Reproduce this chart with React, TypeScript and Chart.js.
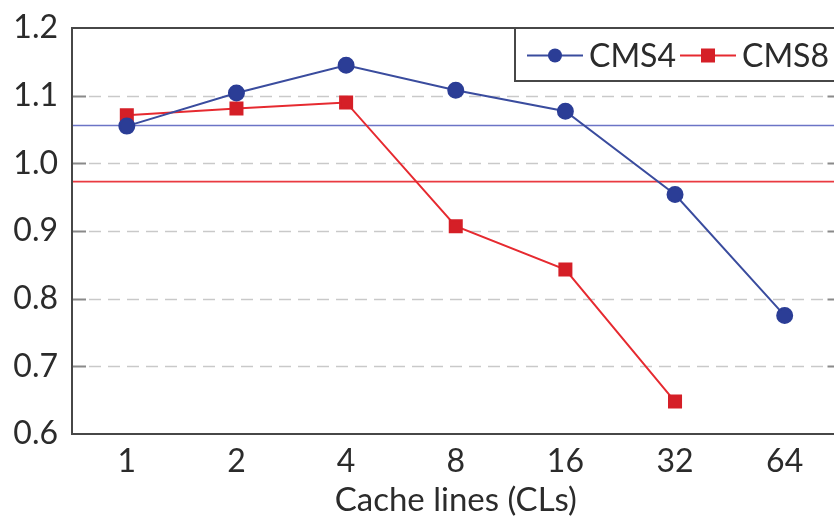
import React, { useEffect, useRef } from "react";
import { Chart, registerables } from "chart.js";

Chart.register(...registerables);

const categories = ["1", "2", "4", "8", "16", "32", "64"];
const cms4Values = [1.055, 1.104, 1.145, 1.108, 1.077, 0.954, 0.775];
const cms8Values = [1.071, 1.081, 1.09, 0.907, 0.843, 0.648, null];
const yTicks = [0.6, 0.7, 0.8, 0.9, 1.0, 1.1, 1.2];
const cms4Baseline = 1.056;
const cms8Baseline = 0.973;

const FONT = "Lato, 'Open Sans', sans-serif";
const TEXT = "#2b2b2b";
const FRAME = "#474747";
const BLUE_LINE = "#3a4c9e";
const BLUE_PT = "#2b3d96";
const RED_LINE = "#e62a30";
const RED_PT = "#d51f27";

const framePlugin = {
  id: "framePlugin",
  beforeDatasetsDraw(chart: any) {
    const { ctx, chartArea } = chart;
    const y = chart.scales.y;
    const { left, right, top, bottom } = chartArea;
    ctx.save();
    yTicks.forEach((v) => {
      if (v <= yTicks[0] || v >= yTicks[yTicks.length - 1]) return;
      const py = Math.round(y.getPixelForValue(v)) + 0.5;
      ctx.lineWidth = 1.5;
      ctx.strokeStyle = "#c9c9c9";
      ctx.setLineDash([12, 7]);
      ctx.beginPath();
      ctx.moveTo(left + 17, py);
      ctx.lineTo(right - 14, py);
      ctx.stroke();
      ctx.setLineDash([]);
      ctx.strokeStyle = "#8a8a8a";
      ctx.lineWidth = 2;
      ctx.beginPath();
      ctx.moveTo(left, py);
      ctx.lineTo(left + 14, py);
      ctx.moveTo(right - 12, py);
      ctx.lineTo(right, py);
      ctx.stroke();
    });
    const drawBase = (v: number, color: string) => {
      const py = y.getPixelForValue(v);
      ctx.strokeStyle = color;
      ctx.lineWidth = 1.6;
      ctx.beginPath();
      ctx.moveTo(left, py);
      ctx.lineTo(right, py);
      ctx.stroke();
    };
    drawBase(cms4Baseline, "#6b74c6");
    drawBase(cms8Baseline, "#ea3a40");
    ctx.strokeStyle = FRAME;
    ctx.lineWidth = 2;
    ctx.strokeRect(left, top, right - left, bottom - top);
    ctx.restore();
  },
  afterDraw(chart: any) {
    const { ctx } = chart;
    const bx = 515;
    const by = chart.chartArea.top;
    const bw = 340;
    const bh = 53;
    ctx.save();
    ctx.fillStyle = "#fff";
    ctx.fillRect(bx, by, bw, bh);
    ctx.strokeStyle = FRAME;
    ctx.lineWidth = 2;
    ctx.strokeRect(bx, by, bw, bh);
    ctx.font = `32px ${FONT}`;
    ctx.textBaseline = "middle";
    let x = bx + 12;
    const cy = by + bh / 2 + 1;
    chart.data.datasets.forEach((ds: any) => {
      ctx.strokeStyle = ds.borderColor;
      ctx.lineWidth = 2;
      ctx.beginPath();
      ctx.moveTo(x, cy);
      ctx.lineTo(x + 56, cy);
      ctx.stroke();
      ctx.fillStyle = ds.pointBackgroundColor;
      if (ds.pointStyle === "rect") {
        ctx.fillRect(x + 28 - 7, cy - 7, 14, 14);
      } else {
        ctx.beginPath();
        ctx.arc(x + 28, cy, 7, 0, Math.PI * 2);
        ctx.fill();
      }
      x += 62;
      ctx.fillStyle = TEXT;
      ctx.fillText(ds.label, x, cy + 1);
      x += ctx.measureText(ds.label).width + 4;
    });
    ctx.restore();
  },
};

export default function App() {
  const ref = useRef<HTMLCanvasElement | null>(null);
  useEffect(() => {
    document.body.style.margin = "0";
    const chart = new Chart(ref.current!, {
      type: "line",
      data: {
        labels: categories,
        datasets: [
          {
            label: "CMS4",
            data: cms4Values,
            borderColor: BLUE_LINE,
            backgroundColor: BLUE_PT,
            pointBackgroundColor: BLUE_PT,
            pointBorderColor: BLUE_PT,
            pointStyle: "circle",
            pointRadius: 7.5,
            borderWidth: 2,
            tension: 0,
          },
          {
            label: "CMS8",
            data: cms8Values,
            borderColor: RED_LINE,
            backgroundColor: RED_PT,
            pointBackgroundColor: RED_PT,
            pointBorderColor: RED_PT,
            pointStyle: "rect",
            pointRadius: 8.5,
            borderWidth: 2,
            tension: 0,
          },
        ],
      },
      options: {
        animation: false,
        responsive: false,
        maintainAspectRatio: false,
        layout: { padding: { top: 28, right: 0, left: 0, bottom: 0 } },
        plugins: { legend: { display: false }, tooltip: { enabled: false } },
        scales: {
          x: {
            offset: true,
            grid: { display: false, drawTicks: false },
            border: { display: false },
            ticks: {
              color: TEXT,
              font: { family: FONT, size: 32 },
              padding: 8,
              maxRotation: 0,
            },
            title: {
              display: true,
              text: "Cache lines (CLs)",
              color: TEXT,
              font: { family: FONT, size: 33 },
              padding: { top: 2, bottom: 0 },
            },
            afterFit(scale: any) {
              scale.height = 86;
              scale.paddingLeft = 0;
              scale.paddingRight = 0;
            },
          },
          y: {
            min: 0.6,
            max: 1.2,
            grid: { display: false, drawTicks: false },
            border: { display: false },
            afterBuildTicks(scale: any) {
              scale.ticks = yTicks.map((v) => ({ value: v }));
            },
            ticks: {
              color: TEXT,
              font: { family: FONT, size: 32 },
              padding: 14,
              callback: (v: any) => Number(v).toFixed(1),
            },
            afterFit(scale: any) {
              scale.width = 72;
              scale.paddingTop = 0;
              scale.paddingBottom = 0;
            },
          },
        },
      },
      plugins: [framePlugin],
    });
    return () => chart.destroy();
  }, []);
  return (
    <div style={{ width: 834, height: 520, overflow: "hidden", position: "relative" }}>
      <canvas ref={ref} width={850} height={520} style={{ display: "block" }} />
    </div>
  );
}
